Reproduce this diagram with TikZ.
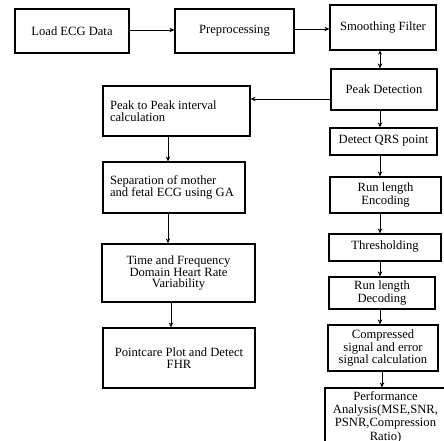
\documentclass[tikz,border=0pt]{standalone}
\usepackage{fontspec}
\setmainfont{Liberation Serif}
\usetikzlibrary{arrows.meta}
\newcommand{\bxc}[3]{\raisebox{#2}{\parbox{#1}{\centering #3}}}
\newcommand{\bxl}[2]{\parbox{#1}{\raggedright #2}}
\tikzset{
  flowbox/.style={draw, line width=1.2pt, inner sep=0pt, rectangle,
    font=\fontsize{12.6pt}{12.6pt}\selectfont},
  arr/.style={line width=0.8pt, -{Stealth[length=5pt,width=4.5pt]}},
}
\begin{document}
\begin{tikzpicture}[x=1pt,y=1pt]
\fill[white] (0,0) rectangle (444,441);
\useasboundingbox (0,0) rectangle (444,441);
\node[flowbox, minimum width=114pt, minimum height=44pt] (load) at (72,410) {Load ECG Data};
\node[flowbox, minimum width=119pt, minimum height=44pt] (pre) at (234.5,410) {Preprocessing};
\node[flowbox, minimum width=106pt, minimum height=45pt] (smooth) at (383,413.5) {Smoothing Filter};
\node[flowbox, minimum width=106pt, minimum height=41pt] (peak) at (384,351.5) {Peak Detection};
\node[flowbox, minimum width=147pt, minimum height=50pt] (p2p) at (176.5,330) {\bxl{133pt}{\baselineskip=12pt Peak to Peak interval calculation}};
\node[flowbox, minimum width=107pt, minimum height=27pt] (qrs) at (383.5,299.5) {\raisebox{4pt}{Detect QRS point}};
\node[flowbox, minimum width=142pt, minimum height=51pt] (sep) at (174,253.5) {\bxl{128pt}{\baselineskip=12pt Separation of mother\\ and fetal ECG using GA}};
\node[flowbox, minimum width=111pt, minimum height=36pt] (rle) at (385.5,246) {\bxc{105pt}{3pt}{\baselineskip=12.6pt Run length\\ Encoding}};
\node[flowbox, minimum width=153pt, minimum height=58pt] (time) at (178.5,168) {\bxc{145pt}{0pt}{\baselineskip=11.8pt Time and Frequency\\ Domain Heart Rate\\ Variability}};
\node[flowbox, minimum width=112pt, minimum height=27pt] (thr) at (385,193.5) {\raisebox{5pt}{Thresholding}};
\node[flowbox, minimum width=106pt, minimum height=32pt] (rld) at (382,148) {\bxc{100pt}{1.5pt}{\baselineskip=12.6pt Run length\\ Decoding}};
\node[flowbox, minimum width=152pt, minimum height=60pt] (point) at (179,83) {\bxc{146pt}{0pt}{\baselineskip=12pt Pointcare Plot and Detect\\ FHR}};
\node[flowbox, minimum width=110pt, minimum height=46pt] (comp) at (383,93) {\bxc{106pt}{1.3pt}{\baselineskip=12.7pt Compressed\\ signal and error\\ signal calculation}};
\node[flowbox, minimum width=121pt, minimum height=58pt] (perf) at (385.5,24) {\bxc{119pt}{0pt}{\baselineskip=13.3pt Performance\\ Analysis(MSE,SNR,\\ PSNR,Compression\\ Ratio)}};
\coordinate (cR) at (380,0);
\coordinate (cRb) at (382,0);
\coordinate (cL) at (168,0);
\coordinate (cLb) at (171,0);
\draw[arr] ([yshift=1pt]load.east) -- ([yshift=1pt]load.east -| pre.west);
\draw[arr] ([yshift=2pt]pre.east) -- ([yshift=2pt]pre.east -| smooth.west);
\draw[line width=0.8pt, {Stealth[length=4pt,width=4pt]}-{Stealth[length=5pt,width=4.5pt]}] (smooth.south -| cR) -- (peak.north -| cR);
\draw[arr] ([yshift=-9.5pt]peak.west) -- ([yshift=-9.5pt]peak.west -| p2p.east);
\draw[arr] (peak.south -| cR) -- (qrs.north -| cR);
\draw[arr] (qrs.south -| cR) -- (rle.north -| cR);
\draw[arr] (rle.south -| cR) -- (thr.north -| cR);
\draw[arr] (thr.south -| cR) -- (rld.north -| cR);
\draw[arr] (rld.south -| cR) -- (comp.north -| cR);
\draw[arr] (comp.south -| cRb) -- (perf.north -| cRb);
\draw[arr] (p2p.south -| cL) -- (sep.north -| cL);
\draw[arr] (sep.south -| cL) -- (time.north -| cL);
\draw[arr] (time.south -| cLb) -- (point.north -| cLb);
\end{tikzpicture}
\end{document}
